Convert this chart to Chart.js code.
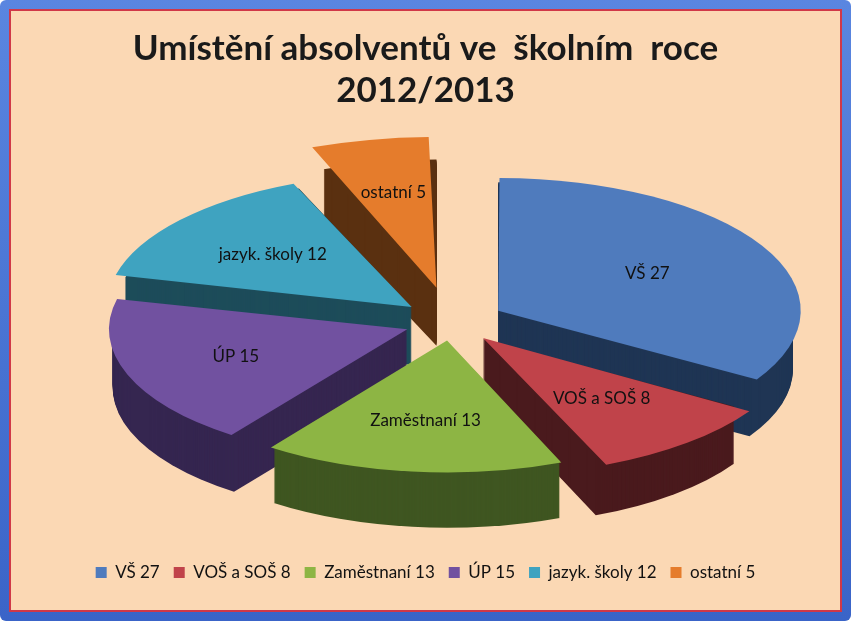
<!DOCTYPE html>
<html><head><meta charset="utf-8">
<script src="https://cdn.jsdelivr.net/npm/chart.js@4/dist/chart.umd.min.js"></script>
<style>
html,body{margin:0;padding:0;background:#fff}
#outer{width:851px;height:621px;box-sizing:border-box;padding:9px;background:linear-gradient(#5a86e0,#3a64c8);border-radius:6px}
#inner{width:100%;height:100%;box-sizing:border-box;border:2px solid #d03848;background:#fbd8b4;position:relative}
#c{position:absolute;left:-11px;top:-11px}
</style></head><body>
<div id="outer"><div id="inner"><canvas id="c" width="851" height="621"></canvas></div></div>
<script>
const categories = ["VŠ 27","VOŠ a SOŠ 8","Zaměstnaní 13","ÚP 15","jazyk. školy 12","ostatní 5"];
const values = [27,8,13,15,12,5];
const colors = ["#4f7bbd","#c0434a","#8db544","#7151a0","#3fa3c0","#e57c2c"];
const darks = ["#1f3554","#4a1a1d","#3f5621","#352650","#1d4c5a","#5a3010"];
const offsets = [100,90,80,90,100,150];

const SX=2.12, SY=0.93, DEPTH=58, TX=452, TY=322;
function tf(chart){const a=chart.chartArea;return {cx:(a.left+a.right)/2,cy:(a.top+a.bottom)/2};}
function applyT(ctx,chart){const {cx,cy}=tf(chart);ctx.translate(TX,TY);ctx.scale(SX,SY);ctx.translate(-cx,-cy);}
const pie3d={
 id:'pie3d',
 beforeDatasetsDraw(chart){
  const ctx=chart.ctx, meta=chart.getDatasetMeta(0);
  ctx.save();applyT(ctx,chart);
  for(let d=DEPTH;d>=1;d--){
   meta.data.forEach((el,i)=>{
    const p=el.getProps(['x','y','startAngle','endAngle','outerRadius'],true);
    const mid=(p.startAngle+p.endAngle)/2, o=offsets[i]/4;
    const x=p.x+Math.cos(mid)*o, y=p.y+Math.sin(mid)*o+d/SY;
    ctx.beginPath();ctx.moveTo(x,y);ctx.arc(x,y,p.outerRadius,p.startAngle,p.endAngle);ctx.closePath();
    ctx.fillStyle=darks[i];ctx.fill();
   });
  }
 },
 afterDatasetsDraw(chart){
  const ctx=chart.ctx;ctx.restore();
  const {cx,cy}=tf(chart), meta=chart.getDatasetMeta(0);
  ctx.save();ctx.font='17px Lato';ctx.fillStyle='#111';ctx.textAlign='center';ctx.textBaseline='middle';
  const rf=[0.58,0.62,0.62,0.62,0.62,0.75];
  meta.data.forEach((el,i)=>{
   const p=el.getProps(['x','y','startAngle','endAngle','outerRadius'],true);
   const mid=(p.startAngle+p.endAngle)/2, r=offsets[i]/4+p.outerRadius*rf[i];
   const x=p.x+Math.cos(mid)*r, y=p.y+Math.sin(mid)*r;
   ctx.fillText(categories[i],TX+(x-cx)*SX,TY+(y-cy)*SY);
  });
  ctx.restore();
 }
};
new Chart(document.getElementById('c'),{
 type:'pie',
 data:{labels:categories,datasets:[{data:values,backgroundColor:colors,borderWidth:0,offset:offsets}]},
 options:{responsive:false,animation:false,
  layout:{padding:{top:10,bottom:30,left:20,right:20}},
  plugins:{
   title:{display:true,text:['Umístění absolventů ve  školním  roce','2012/2013'],font:{family:'Lato',size:35,weight:'bold'},color:'#1a1a1a',padding:{top:18,bottom:10},lineHeight:1.35},
   legend:{position:'bottom',labels:{font:{family:'Lato',size:17},color:'#111',boxWidth:11,boxHeight:11,padding:14}},
   tooltip:{enabled:false}
  }},
 plugins:[pie3d]
});
</script></body></html>
